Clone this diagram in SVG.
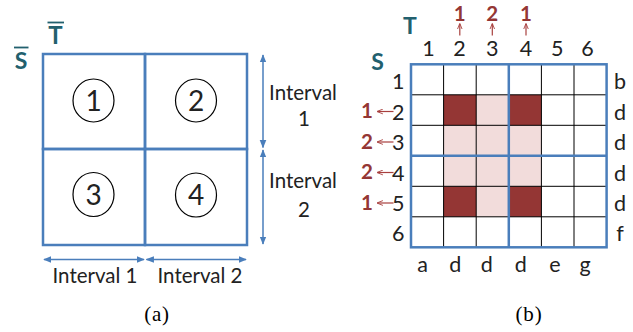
<svg xmlns="http://www.w3.org/2000/svg" width="633" height="332" viewBox="0 0 633 332">
<style>
.t{font-family:Lato,"Open Sans","Liberation Sans",sans-serif;fill:#222}
.lab{font-size:20.5px}
.num{font-size:21.5px}
.cn{font-size:28px}
.tl{font-family:Lato,"Open Sans","Liberation Sans",sans-serif;font-weight:bold;fill:#22606e}
.rd{font-family:Lato,"Open Sans","Liberation Sans",sans-serif;font-weight:bold;fill:#943634;font-size:20.5px}
.cap{font-family:"Liberation Serif","DejaVu Serif",serif;font-size:21px;fill:#000;letter-spacing:0.8px}
.blue{stroke:#4a7ebb;stroke-width:2.5;fill:none}
.thin{stroke:#000;stroke-width:1;fill:none}
.dim{stroke:#4a7ebb;stroke-width:1.5;fill:none;marker-start:url(#ah);marker-end:url(#ah)}
.rarr{stroke:#a8403e;stroke-width:1.2;fill:none;marker-end:url(#rh)}
.dark{fill:#943634}
.light{fill:#f2dcdb}
</style>
<defs>
<marker id="ah" viewBox="0 0 10 10" refX="9" refY="5" markerWidth="5.5" markerHeight="5.5" orient="auto-start-reverse" markerUnits="strokeWidth">
<path d="M0,1 L10,5 L0,9 Z" fill="#4a7ebb"/>
</marker>
<marker id="rh" viewBox="0 0 10 10" refX="9" refY="5" markerWidth="5" markerHeight="5" orient="auto" markerUnits="strokeWidth">
<path d="M0,1 L10,5 L0,9" fill="none" stroke="#a8403e" stroke-width="1.5"/>
</marker>
</defs>
<g id="panel-a">
<g id="labels-a">
<text class="tl" x="21" y="69" font-size="23" text-anchor="middle">S</text>
<line x1="14" y1="47.5" x2="28.5" y2="47.5" stroke="#22606e" stroke-width="1.8"/>
<text class="tl" x="55.5" y="44" font-size="24" text-anchor="middle">T</text>
<line x1="47.5" y1="22.5" x2="64" y2="22.5" stroke="#22606e" stroke-width="1.8"/>
</g>
<g id="cell1">
<rect x="43" y="54" width="102" height="95" class="blue"/>
<ellipse cx="93.5" cy="100.5" rx="20.5" ry="21.5" fill="none" stroke="#000" stroke-width="1.2"/>
<text class="t cn" x="93.5" y="110.5" text-anchor="middle">1</text>
</g>
<g id="cell2">
<rect x="145" y="54" width="102" height="95" class="blue"/>
<ellipse cx="196" cy="100.5" rx="20.5" ry="21.5" fill="none" stroke="#000" stroke-width="1.2"/>
<text class="t cn" x="196" y="110.5" text-anchor="middle">2</text>
</g>
<g id="cell3">
<rect x="43" y="149" width="102" height="96" class="blue"/>
<ellipse cx="93.5" cy="194.5" rx="20.5" ry="22" fill="none" stroke="#000" stroke-width="1.2"/>
<text class="t cn" x="93.5" y="204.5" text-anchor="middle">3</text>
</g>
<g id="cell4">
<rect x="145" y="149" width="102" height="96" class="blue"/>
<ellipse cx="196" cy="195" rx="20.5" ry="22" fill="none" stroke="#000" stroke-width="1.2"/>
<text class="t cn" x="196" y="204.5" text-anchor="middle">4</text>
</g>
<g id="dims-a">
<line x1="263" y1="55" x2="263" y2="147.5" class="dim"/>
<line x1="263" y1="150" x2="263" y2="244" class="dim"/>
<line x1="44" y1="259.5" x2="144" y2="259.5" class="dim"/>
<line x1="146.5" y1="259.5" x2="246" y2="259.5" class="dim"/>
<text class="t lab" x="303" y="99.5" text-anchor="middle">Interval</text>
<text class="t lab" x="304" y="126" text-anchor="middle">1</text>
<text class="t lab" x="303" y="188" text-anchor="middle">Interval</text>
<text class="t lab" x="304" y="216.5" text-anchor="middle">2</text>
<text class="t lab" x="95" y="282.5" text-anchor="middle">Interval 1</text>
<text class="t lab" x="200" y="282.5" text-anchor="middle">Interval 2</text>
</g>
<text class="cap" x="157" y="320.5" text-anchor="middle">(a)</text>
</g>
<g id="panel-b">
<g id="fills">
<rect class="light" x="476.2" y="94.8" width="32.6" height="122"/>
<rect class="light" x="443.6" y="125.3" width="32.6" height="61"/>
<rect class="light" x="508.8" y="125.3" width="32.6" height="61"/>
<rect class="dark" x="443.6" y="94.8" width="32.6" height="30.5"/>
<rect class="dark" x="508.8" y="94.8" width="32.6" height="30.5"/>
<rect class="dark" x="443.6" y="186.3" width="32.6" height="30.5"/>
<rect class="dark" x="508.8" y="186.3" width="32.6" height="30.5"/>
</g>
<g id="grid-lines">
<path class="thin" d="M443.6,64.3V247.3M476.2,64.3V247.3M541.4,64.3V247.3M574,64.3V247.3M411,94.8H606.6M411,125.3H606.6M411,186.3H606.6M411,216.8H606.6"/>
<rect class="blue" x="411" y="64.3" width="195.6" height="183"/>
<path class="blue" d="M508.8,64.3V247.3M411,155.8H606.6"/>
</g>
<g id="labels-b">
<text class="tl" x="410" y="33.5" font-size="23" text-anchor="middle">T</text>
<text class="tl" x="377.5" y="70" font-size="23" text-anchor="middle">S</text>
<g class="t num" text-anchor="middle">
<text x="428.5" y="56">1</text>
<text x="459.5" y="56">2</text>
<text x="492.3" y="56">3</text>
<text x="526" y="56">4</text>
<text x="557.3" y="56">5</text>
<text x="587.5" y="56">6</text>
</g>
<g class="t num" text-anchor="end">
<text x="404.5" y="89">1</text>
<text x="404.5" y="119.5">2</text>
<text x="404.5" y="150">3</text>
<text x="404.5" y="180.5">4</text>
<text x="404.5" y="211">5</text>
<text x="404.5" y="241">6</text>
</g>
<g class="t num" text-anchor="middle">
<text x="620" y="89">b</text>
<text x="620" y="119.5">d</text>
<text x="620" y="150">d</text>
<text x="620" y="180.5">d</text>
<text x="620" y="211">d</text>
<text x="620" y="241">f</text>
</g>
<g class="t num" text-anchor="middle">
<text x="422.7" y="272">a</text>
<text x="455.3" y="272">d</text>
<text x="486.7" y="272">d</text>
<text x="520.7" y="272">d</text>
<text x="555" y="272">e</text>
<text x="585" y="272">g</text>
</g>
<g text-anchor="middle">
<text class="rd" x="459.8" y="20.5">1</text>
<text class="rd" x="492.3" y="20.5">2</text>
<text class="rd" x="526" y="20.5">1</text>
<text class="rd" x="367" y="118">1</text>
<text class="rd" x="367" y="148.5">2</text>
<text class="rd" x="367" y="179">2</text>
<text class="rd" x="367" y="209.5">1</text>
</g>
</g>
<g id="connectors">
<line class="rarr" x1="459.8" y1="35.5" x2="459.8" y2="24"/>
<line class="rarr" x1="492.3" y1="35.5" x2="492.3" y2="24"/>
<line class="rarr" x1="526" y1="35.5" x2="526" y2="24"/>
<line class="rarr" x1="393.5" y1="111.5" x2="377.5" y2="111.5"/>
<line class="rarr" x1="393.5" y1="142" x2="377.5" y2="142"/>
<line class="rarr" x1="393.5" y1="172.5" x2="377.5" y2="172.5"/>
<line class="rarr" x1="393.5" y1="203" x2="377.5" y2="203"/>
</g>
<text class="cap" x="529" y="320.5" text-anchor="middle">(b)</text>
</g>
</svg>
